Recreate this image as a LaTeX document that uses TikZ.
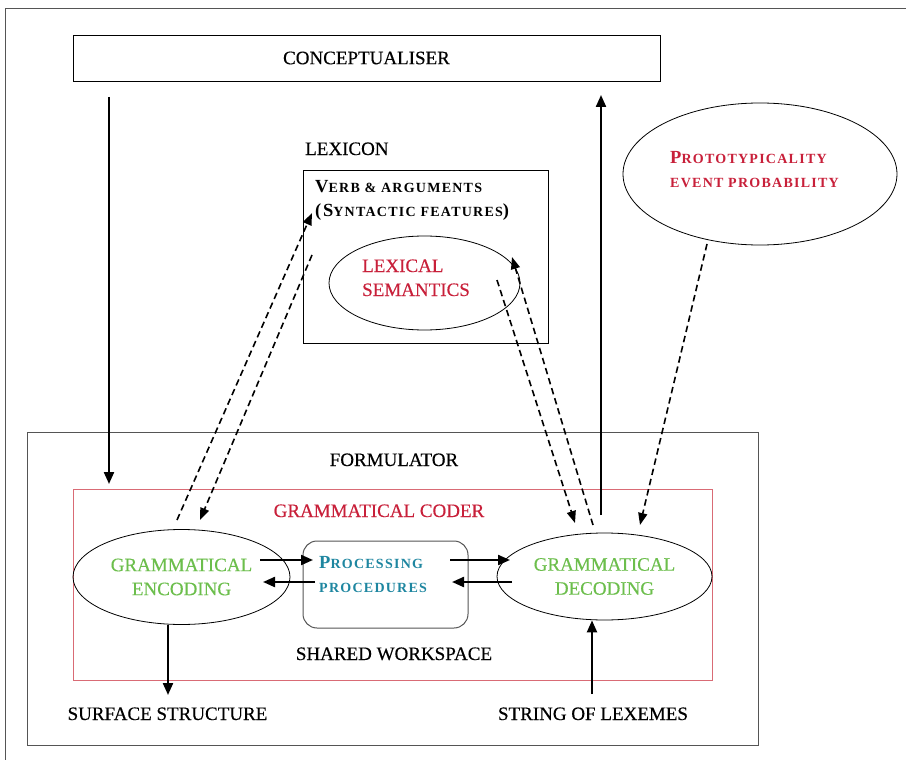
\documentclass[tikz,border=0pt]{standalone}
\usepackage{fontspec}
\setmainfont{Liberation Serif}
\newfontfamily\capfam[FakeBold=0.35]{Liberation Serif}
\newfontfamily\spacedfam[LetterSpace=9]{Liberation Serif}
\usetikzlibrary{arrows.meta,shapes.geometric}

\definecolor{codered}{HTML}{C8203A}
\definecolor{codegreen}{HTML}{6CBE4C}
\definecolor{codeteal}{HTML}{1E86A0}
\definecolor{coderframe}{HTML}{D96B75}
\definecolor{boxgray}{HTML}{555555}

% caps at the main size, and a home-made small caps (large initial, smaller spaced rest)
\newcommand{\capsz}{\capfam\fontsize{19}{24}\selectfont}
\newcommand{\scsz}{\fontsize{13}{24}\selectfont}
\newcommand{\bigsc}[1]{{\spacedfam\bfseries\fontsize{18.5}{24}\selectfont #1}}
\newcommand{\lowsc}[1]{{\spacedfam\bfseries\fontsize{14}{24}\selectfont #1}}

\tikzset{
  boxline/.style={draw=black, line width=0.8pt},
  oval/.style={draw=black, ellipse, line width=0.8pt, inner sep=0pt},
  label/.style={font=\capsz, inner sep=0pt, anchor=base},
  sctext/.style={anchor=base west, inner sep=0pt, font=\bfseries\scsz, align=left},
  solidarrow/.style={line width=2.2pt, -{Triangle[length=12pt,width=10pt]}},
  dasharrow/.style={line width=1.6pt, dash pattern=on 6.5pt off 4pt,
                    -{Triangle[length=12pt,width=9pt]}},
}

\begin{document}
\begin{tikzpicture}[x=1pt,y=-1pt]
\useasboundingbox (0,0) rectangle (906,760);

% outer frame (only its top and left edges fall inside the page)
\draw[boxgray, line width=1pt] (5,770) -- (5,9) -- (920,9);

% conceptualiser
\node[boxline, minimum width=587pt, minimum height=46pt, inner sep=0pt, font=\capsz]
  (concept) at (366.5,58) {CONCEPTUALISER};

% lexicon
\node[label, anchor=base west] (lexlabel) at (305,155) {LEXICON};
\node[boxline, minimum width=245pt, minimum height=173pt, inner sep=0pt]
  (lexicon) at (425.5,256.5) {};
\node[sctext] (verb) at (315,192) {\bigsc{V}\lowsc{ERB \& ARGUMENTS}};
\node[sctext] (synt) at (315,216) {\bigsc{(S}\lowsc{YNTACTIC FEATURES}\bigsc{)}};
\node[oval, minimum width=191pt, minimum height=94pt] (lexsem) at (424.5,283) {};
\node[anchor=base west, inner sep=0pt, font=\capsz, text=codered, align=left]
  (lexsemtext) at (362,296) {LEXICAL\\SEMANTICS};

% prototypicality
\node[oval, minimum width=274pt, minimum height=142pt] (proto) at (760,174) {};
\node[sctext, text=codered]
  (prototext) at (670,187) {\bigsc{P}\lowsc{ROTOTYPICALITY}\\\lowsc{EVENT PROBABILITY}};

% formulator
\node[draw=boxgray, line width=1pt, minimum width=731pt, minimum height=313pt, inner sep=0pt]
  (formulator) at (392.5,588.5) {};
\node[label] (formlabel) at (394,466) {FORMULATOR};

% grammatical coder
\node[draw=coderframe, line width=1pt, minimum width=639pt, minimum height=191pt, inner sep=0pt]
  (coder) at (392.5,584.5) {};
\node[label, text=codered] (coderlabel) at (379,517) {GRAMMATICAL CODER};

\node[oval, minimum width=217pt, minimum height=95pt, font=\capsz, text=codegreen, align=center]
  (enc) at (181.5,577) {GRAMMATICAL\\ENCODING};
\node[oval, minimum width=215pt, minimum height=87pt, font=\capsz, text=codegreen, align=center]
  (dec) at (604.5,576.5) {GRAMMATICAL\\DECODING};

\node[draw=boxgray, line width=1pt, rounded corners=14pt, minimum width=165pt, minimum height=87pt]
  (proc) at (385.5,584.5) {};
\node[sctext, text=codeteal]
  (proctext) at (319,592) {\bigsc{P}\lowsc{ROCESSING}\\\lowsc{PROCEDURES}};

\node[label] (shared) at (394,660) {SHARED WORKSPACE};
\node[label] (surf) at (167.5,720) {SURFACE STRUCTURE};
\node[label] (lexemes) at (593,720) {STRING OF LEXEMES};

% free ends of the connectors
\coordinate (cdown0) at (109,97);
\coordinate (cdown1) at (109,484);
\coordinate (cup0) at (601,515);
\coordinate (cup1) at (601,95);
\coordinate (surfend) at (168,695);
\coordinate (lexstart) at (592,694);
\coordinate (encR1) at (260,560);  \coordinate (procL1) at (313,560);
\coordinate (procL2) at (315,582); \coordinate (encR2) at (263,582);
\coordinate (procR1) at (450,560); \coordinate (decL1) at (510,560);
\coordinate (decL2) at (512,582);  \coordinate (procR2) at (452,582);
\coordinate (la0) at (177,520);    \coordinate (la1) at (312,213);
\coordinate (lb0) at (312,255);    \coordinate (lb1) at (200,520);
\coordinate (ra0) at (497,280);    \coordinate (ra1) at (575,523);
\coordinate (rb0) at (593,525);    \coordinate (rb1) at (512,257);
\coordinate (pa0) at (707,244);    \coordinate (pa1) at (640,525);

% solid connectors
\draw[solidarrow] (cdown0) -- (cdown1);
\draw[solidarrow] (cup0) -- (cup1);
\draw[solidarrow] (surfend |- enc.south) -- (surfend);
\draw[solidarrow] (lexstart) -- (lexstart |- dec.south);
\draw[solidarrow] (encR1) -- (procL1);
\draw[solidarrow] (procL2) -- (encR2);
\draw[solidarrow] (procR1) -- (decL1);
\draw[solidarrow] (decL2) -- (procR2);

% dashed connectors
\draw[dasharrow] (la0) -- (la1);
\draw[dasharrow] (lb0) -- (lb1);
\draw[dasharrow] (ra0) -- (ra1);
\draw[dasharrow] (rb0) -- (rb1);
\draw[dasharrow] (pa0) -- (pa1);
\end{tikzpicture}
\end{document}
